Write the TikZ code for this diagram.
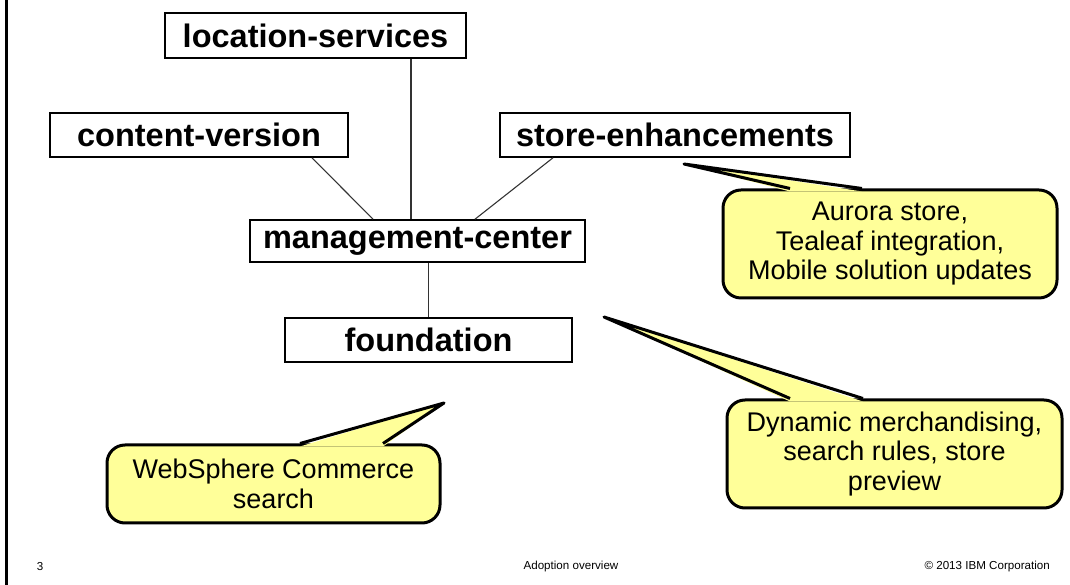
\documentclass[tikz,border=0pt]{standalone}
\usepackage{fontspec}
\setmainfont{Liberation Sans}
\usetikzlibrary{calc}

\definecolor{notefill}{HTML}{FFFF99}
\definecolor{linkgray}{HTML}{333333}

\tikzset{
    compbox/.style={draw=black, line width=1.6pt, fill=white, inner sep=0pt,
        font=\fontsize{32.5}{39}\selectfont\bfseries},
    link/.style={linkgray, line width=1.1pt},
    note/.style={draw=black, line width=3pt, fill=notefill, rounded corners=18pt,
        inner sep=0pt, align=center, font=\fontsize{27}{29.5}\selectfont},
    footer/.style={font=\fontsize{11.6}{13}\selectfont, inner sep=0pt}
}

\begin{document}
\begin{tikzpicture}[x=1pt, y=1pt]
    \useasboundingbox (0,0) rectangle (1070,585);

    % 1. left edge of the page
    \draw[black, line width=2.2pt] (6.5,0) -- (6.5,585);

    % 2. the component boxes
    \node[compbox, minimum width=301pt, minimum height=45pt] (loc)   at (315.5,549.5) {location-services};
    \node[compbox, minimum width=298pt, minimum height=44pt] (cont)  at (199,450)     {content-version};
    \node[compbox, minimum width=350pt, minimum height=44pt] (store) at (675,450)     {store-enhancements};
    \node[compbox, minimum width=335pt, minimum height=42pt] (mgmt)  at (417.5,344)   {management-center};
    \node[compbox, minimum width=287pt, minimum height=44pt] (found) at (428.5,245)   {foundation};

    % 3. dependency lines
    \draw[link] ([xshift=95.5pt]loc.south) -- ([xshift=95.5pt]loc.south |- mgmt.north);
    \draw[link] ([xshift=113pt]cont.south) -- ([xshift=-44.5pt]mgmt.north);
    \draw[link] ([xshift=-122pt]store.south) -- ([xshift=57.5pt]mgmt.north);
    \draw[link] (found.north |- mgmt.south) -- (found.north);

    % 4. yellow notes
    \node[note, minimum width=334pt, minimum height=108pt] (aur) at (890,341)
        {Aurora store,\\Tealeaf integration,\\Mobile solution updates};
    \node[note, minimum width=335pt, minimum height=108pt] (dyn) at (894.5,131)
        {Dynamic merchandising,\\search rules, store\\preview};
    \node[note, minimum width=333pt, minimum height=78pt] (wsc) at (273.5,101)
        {WebSphere Commerce\\search};

    % where the pointers end
    \coordinate (aur-tip) at (684,421);
    \coordinate (dyn-tip) at (604,268);
    \coordinate (wsc-tip) at (444,182);

    % pointers: fill over the top border, then draw the two sides
    \foreach \n/\a/\b in {aur/-100/-28, dyn/-104.5/-31.5, wsc/26.5/109.5} {
        \fill[notefill] ([xshift=\a pt, yshift=-3pt]\n.north) -- (\n-tip)
            -- ([xshift=\b pt, yshift=-3pt]\n.north) -- cycle;
        \draw[black, line width=3pt, line join=round]
            ([xshift=\a pt]\n.north) -- (\n-tip) -- ([xshift=\b pt]\n.north);
    }

    % 5. footer
    \node[footer] (pagenum) at (40,18) {3};
    \node[footer] (title) at (571,18) {Adoption overview};
    \node[footer, anchor=east] (copy) at (1050,18) {© 2013 IBM Corporation};
\end{tikzpicture}
\end{document}
